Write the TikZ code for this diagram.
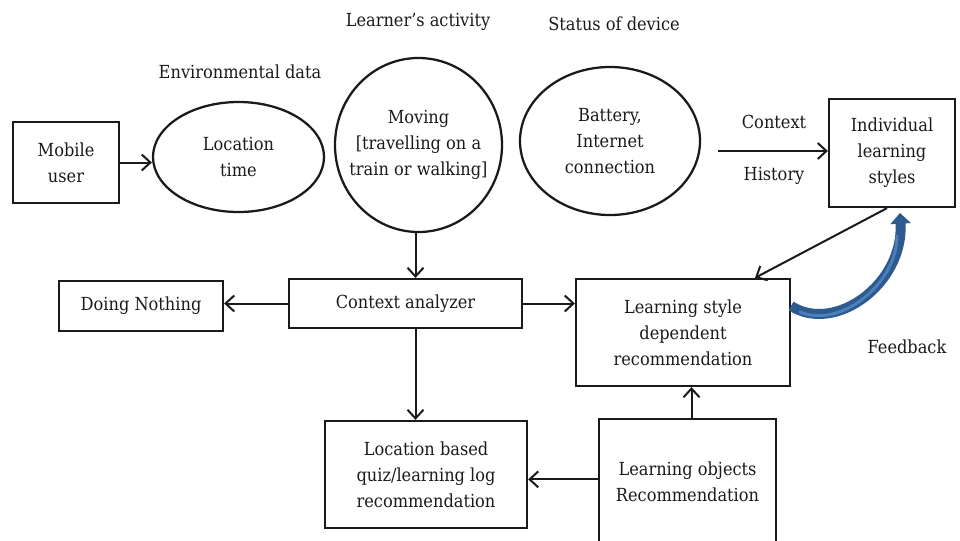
\documentclass[tikz,border=0pt]{standalone}
\usepackage{fontspec}
\setmainfont{DejaVu Serif Condensed}
\usetikzlibrary{shapes.geometric,arrows.meta,calc}
\definecolor{fbdark}{HTML}{2D5B8F}
\definecolor{fblight}{HTML}{4C7FBA}
\definecolor{ink}{HTML}{1A1A1A}
\begin{document}
\begin{tikzpicture}[x=0.75pt,y=-0.75pt,
  font=\fontsize{13.5}{19.5}\selectfont,
  every node/.style={text=ink},
  box/.style={draw=ink,line width=1.7pt,align=center,inner sep=0pt},
  oval/.style={draw=ink,line width=1.7pt,ellipse,inner sep=0pt},
  txt/.style={align=center,inner sep=0pt},
  conn/.style={draw=ink,line width=1.5pt,-{Straight Barb[length=6.5pt,width=12pt,line width=1.5pt]}},
  fb/.style={draw=fbdark,line width=7.5pt,-{Triangle[length=8pt,width=15pt]}},
  fbshine/.style={draw=fblight,line width=2.2pt,line cap=round},
]
\useasboundingbox (0,0) rectangle (960,540);

% rectangular steps
\node[box,minimum width=79.5pt,minimum height=60.75pt] (mobile) at (66,162.5) {Mobile\\user};
\node[box,minimum width=94.5pt,minimum height=81pt] (ils) at (892,153) {Individual\\learning\\styles};
\node[box,minimum width=174.75pt,minimum height=36.75pt] (ca) at (405.5,303.5) {Context analyzer};
\node[box,minimum width=123pt,minimum height=37.5pt] (dn) at (141,306) {Doing Nothing};
\node[box,minimum width=151.5pt,minimum height=80.25pt] (lb) at (426,474.5) {Location based\\quiz/learning log\\recommendation};
\node[box,minimum width=160.5pt,minimum height=80.25pt] (lsdr) at (683,332.5) {Learning style\\dependent\\recommendation};
\node[box,minimum width=132.75pt,minimum height=94.5pt] (lor) at (687.5,482) {Learning objects\\Recommendation};

% context sources
\node[oval,minimum width=128.25pt,minimum height=82.5pt] (loc) at (238.5,157) {};
\node[txt] (loctxt) at (loc) {Location\\time};
\node[oval,minimum width=125.25pt,minimum height=130.5pt] (mov) at (418.5,145) {};
\node[txt] (movtxt) at (mov) {Moving\\{[}travelling on a\\train or walking{]}};
\node[oval,minimum width=135pt,minimum height=111pt] (bat) at (610,141) {};
\node[txt] (battxt) at (bat) {Battery,\\Internet\\connection};

% captions
\node[txt] (envlbl) at (240,72) {Environmental data};
\node[txt] (actlbl) at (418,22) {Learner’s activity};
\node[txt] (devlbl) at (614,24) {Status of device};
\node[txt] (ctxlbl) at (774,122) {Context};
\node[txt] (histlbl) at (774,176) {History};
\node[txt] (fblbl) at (907,347) {Feedback};

% connectors
\coordinate (ctxstart) at (718,151);
\draw[conn] (mobile.east) -- (mobile.east -| loc.west);
\draw[conn] (ctxstart) -- (ctxstart -| ils.west);
\draw[conn] ([xshift=7.5pt]ca.north |- mov.south) -- ([xshift=7.5pt]ca.north);
\draw[conn] (ca.west) -- (ca.west -| dn.east);
\draw[conn] (ca.east) -- (ca.east -| lsdr.west);
\draw[conn] ([xshift=7.5pt]ca.south) -- ([xshift=7.5pt]ca.south |- lb.north);
\draw[conn] ([xshift=3pt]lor.north) -- ([xshift=3pt]lor.north |- lsdr.south);
\draw[conn] ([yshift=2pt]lor.west) -- ([yshift=2pt]lor.west -| lb.east);
\draw[conn] ([xshift=-3.75pt]ils.south) -- ([xshift=54pt]lsdr.north);

% feedback loop
\coordinate (fbA) at (791,306);
\coordinate (fbB) at (900,213);
\draw[fb] (fbA) .. controls (835,334) and (904,284) .. (fbB);
\draw[fbshine] (800,312) .. controls (840,329) and (897,284) .. (897,236);
\end{tikzpicture}
\end{document}
